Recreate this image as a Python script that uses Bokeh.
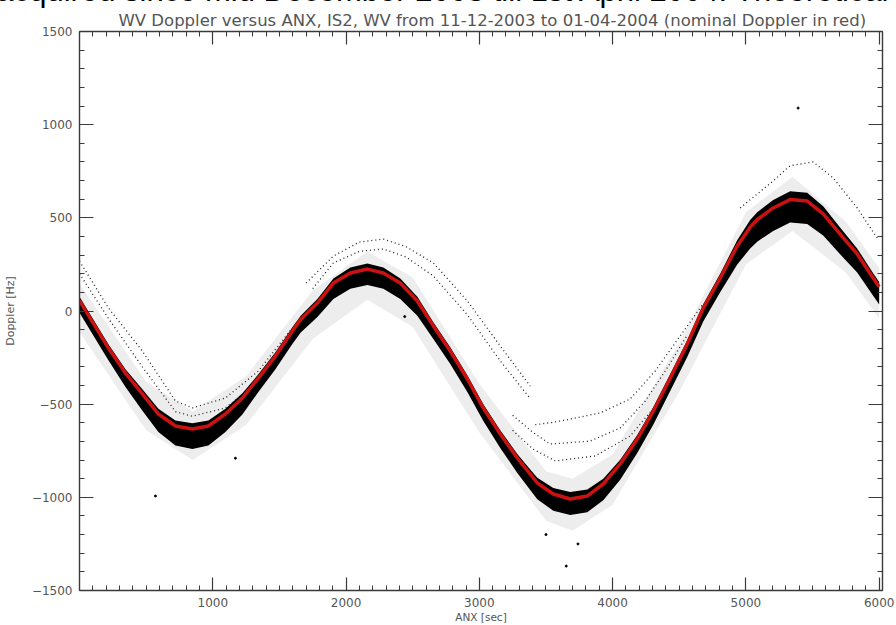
from bokeh.plotting import figure
from bokeh.models import Range1d, LinearAxis, FixedTicker, Title
from bokeh.embed import file_html
from bokeh.resources import INLINE

# ---- data ----
anx = [0, 217, 345, 472, 592, 720, 847, 967, 1095, 1222, 1342, 1470, 1597, 1660, 1785,
       1905, 2032, 2160, 2280, 2407, 2535, 2655, 2782, 2910, 3030, 3157, 3285, 3382, 3435,
       3555, 3682, 3810, 3930, 4057, 4185, 4305, 4432, 4560, 4680, 4807, 4935, 5032, 5085,
       5205, 5332, 5460, 5580, 5707, 5835, 5955, 6000]
nominal_doppler = [56, -199, -333, -445, -553, -617, -633, -617, -553, -467, -360, -242, -107, -45, 43,
                   150, 204, 225, 204, 150, 54, -80, -215, -365, -521, -660, -789, -875, -923,
                   -982, -1009, -993, -928, -821, -687, -537, -360, -177, 16, 177, 349, 450, 490,
                   553, 598, 590, 521, 413, 306, 177, 130]
# dense cloud of measured Doppler (upper / lower edge of the black band)
band_hi = [76, -179, -313, -420, -525, -587, -603, -587, -525, -442, -340, -222, -87, -25, 65,
           175, 234, 255, 234, 175, 76, -60, -195, -345, -501, -640, -767, -850, -895,
           -950, -972, -958, -900, -798, -665, -517, -340, -157, 36, 200, 380, 488, 530,
           596, 643, 635, 562, 448, 336, 202, 155]
band_lo = [-9, -264, -408, -535, -650, -722, -740, -722, -650, -555, -435, -312, -177, -115, -32,
           65, 119, 140, 119, 65, -26, -150, -285, -435, -591, -735, -869, -960, -1010,
           -1072, -1095, -1080, -1015, -906, -762, -610, -430, -247, -56, 100, 250, 335, 372,
           430, 475, 467, 405, 305, 206, 82, 35]
# sparse scatter halo around the band
halo_anx = [0, 500, 850, 1250, 1750, 2160, 2500, 3000, 3500, 3700, 4000, 4500, 5000, 5350, 5750, 6000]
halo_hi = [146, -380, -540, -350, 110, 320, 180, -390, -860, -900, -770, -170, 530, 720, 480, 230]
halo_lo = [-114, -640, -800, -612, -150, 60, -86, -652, -1125, -1180, -1040, -433, 250, 430, 207, -40]
# offset tracks of measurements above the nominal curve
track_a_anx = [0, 217, 472, 720, 847, 1095, 1342, 1597]
track_a_dop = [268, 16, -215, -483, -520, -467, -322, -91]
track_a2_anx = [0, 217, 472, 720, 847, 1095, 1342]
track_a2_dop = [200, -40, -300, -540, -565, -520, -380]
track_b1_anx = [1700, 1905, 2100, 2280, 2450, 2655, 2910, 3157, 3382]
track_b1_dop = [150, 295, 370, 386, 345, 258, 54, -188, -403]
track_b2_anx = [1750, 1905, 2100, 2280, 2450, 2655, 2910, 3157, 3382]
track_b2_dop = [120, 258, 320, 333, 290, 188, -20, -268, -470]
track_c1_anx = [3420, 3550, 3682, 3907, 4132, 4320, 4507, 4680]
track_c1_dop = [-610, -598, -580, -547, -472, -322, -134, 40]
track_c2_anx = [3250, 3400, 3532, 3832, 4057, 4245, 4395, 4560]
track_c2_dop = [-560, -650, -714, -698, -628, -483, -322, -130]
track_c3_anx = [3250, 3400, 3570, 3870, 4132, 4320, 4450]
track_c3_dop = [-640, -740, -805, -778, -671, -510, -350]
track_d_anx = [4957, 5205, 5332, 5505, 5655, 5835, 5985]
track_d_dop = [553, 698, 780, 800, 714, 553, 392]
outlier_anx = [5392, 570, 3652, 3740, 3500, 1170, 2440]
outlier_dop = [1089, -993, -1369, -1250, -1200, -790, -30]

x_major = [1000, 2000, 3000, 4000, 5000, 6000]
x_minor = list(range(100, 6001, 100))
y_major = [-1500, -1000, -500, 0, 500, 1000, 1500]
y_minor = list(range(-1500, 1501, 100))

title_text = "WV Doppler versus ANX, IS2, WV from 11-12-2003 to 01-04-2004 (nominal Doppler in red)"
top_text = "acquired since mid December 2003 till 1st April 2004. Theoretical"

MT = -30
W, H = 894, 655
p = figure(width=W, height=H, output_backend="svg", toolbar_location=None,
           x_range=Range1d(0, 6025), y_range=Range1d(-1500, 1500),
           min_border_left=79, min_border_right=12, min_border_top=10, min_border_bottom=35,
           margin=(MT, 0, MT, 0))
p.title = None
p.xgrid.visible = False
p.ygrid.visible = False
p.outline_line_color = None
p.background_fill_color = "white"
p.border_fill_color = "white"

AX = "#3a3a3a"
FONT = "DejaVu Sans"


def style(ax, major, minor, tick_len, show_labels):
    ax.ticker = FixedTicker(ticks=major, minor_ticks=minor)
    ax.major_tick_in = tick_len
    ax.major_tick_out = 0
    ax.minor_tick_in = 5
    ax.minor_tick_out = 0
    ax.axis_line_color = AX
    ax.axis_line_width = 1.4
    ax.major_tick_line_color = AX
    ax.minor_tick_line_color = AX
    ax.major_tick_line_width = 1.2
    ax.minor_tick_line_width = 1.0
    if show_labels:
        ax.major_label_text_font = FONT
        ax.major_label_text_font_size = "12px"
        ax.major_label_text_color = "#555555"
        ax.major_label_standoff = 7
        ax.axis_label_text_font = FONT
        ax.axis_label_text_font_style = "normal"
        ax.axis_label_text_color = "#555555"
    else:
        ax.major_label_text_font_size = "0px"
        ax.major_label_text_color = None


xb = p.xaxis[0]
yl = p.yaxis[0]
style(xb, x_major, x_minor, 13, True)
style(yl, y_major, y_minor, 14, True)
xb.axis_label = "ANX [sec]"
xb.axis_label_text_font_size = "10.5px"
xb.axis_label_standoff = 1
yl.axis_label = "Doppler [Hz]"
yl.axis_label_text_font_size = "11px"
yl.axis_label_standoff = 12

xt = LinearAxis()
style(xt, x_major, x_minor, 13, False)
p.add_layout(xt, "above")
yr = LinearAxis()
style(yr, y_major, y_minor, 14, False)
p.add_layout(yr, "right")

p.add_layout(Title(text=title_text, align="left", offset=39, standoff=3,
                   text_font=FONT, text_font_size="16.5px", text_font_style="normal",
                   text_color="#555555"), "above")
p.add_layout(Title(text=top_text, align="left", offset=-83, standoff=0,
                   text_font="Liberation Sans", text_font_size="31px", text_font_style="normal",
                   text_color="black"), "above")

# scatter halo, dense band, tracks, outliers, nominal curve
p.varea(x=halo_anx, y1=halo_lo, y2=halo_hi, fill_color="black", fill_alpha=0.07)
p.varea(x=anx, y1=band_lo, y2=band_hi, fill_color="black", fill_alpha=1.0)
for tx, ty in [(track_a_anx, track_a_dop), (track_a2_anx, track_a2_dop),
               (track_b1_anx, track_b1_dop), (track_b2_anx, track_b2_dop),
               (track_c1_anx, track_c1_dop), (track_c2_anx, track_c2_dop),
               (track_c3_anx, track_c3_dop), (track_d_anx, track_d_dop)]:
    p.line(tx, ty, line_color="#222222", line_width=1.3, line_dash="1 3")
p.scatter(outlier_anx, outlier_dop, size=2, color="black")
p.line(anx, nominal_doppler, line_color="#cc1111", line_width=3.5)

open("out.html", "w").write(file_html(p, INLINE))
